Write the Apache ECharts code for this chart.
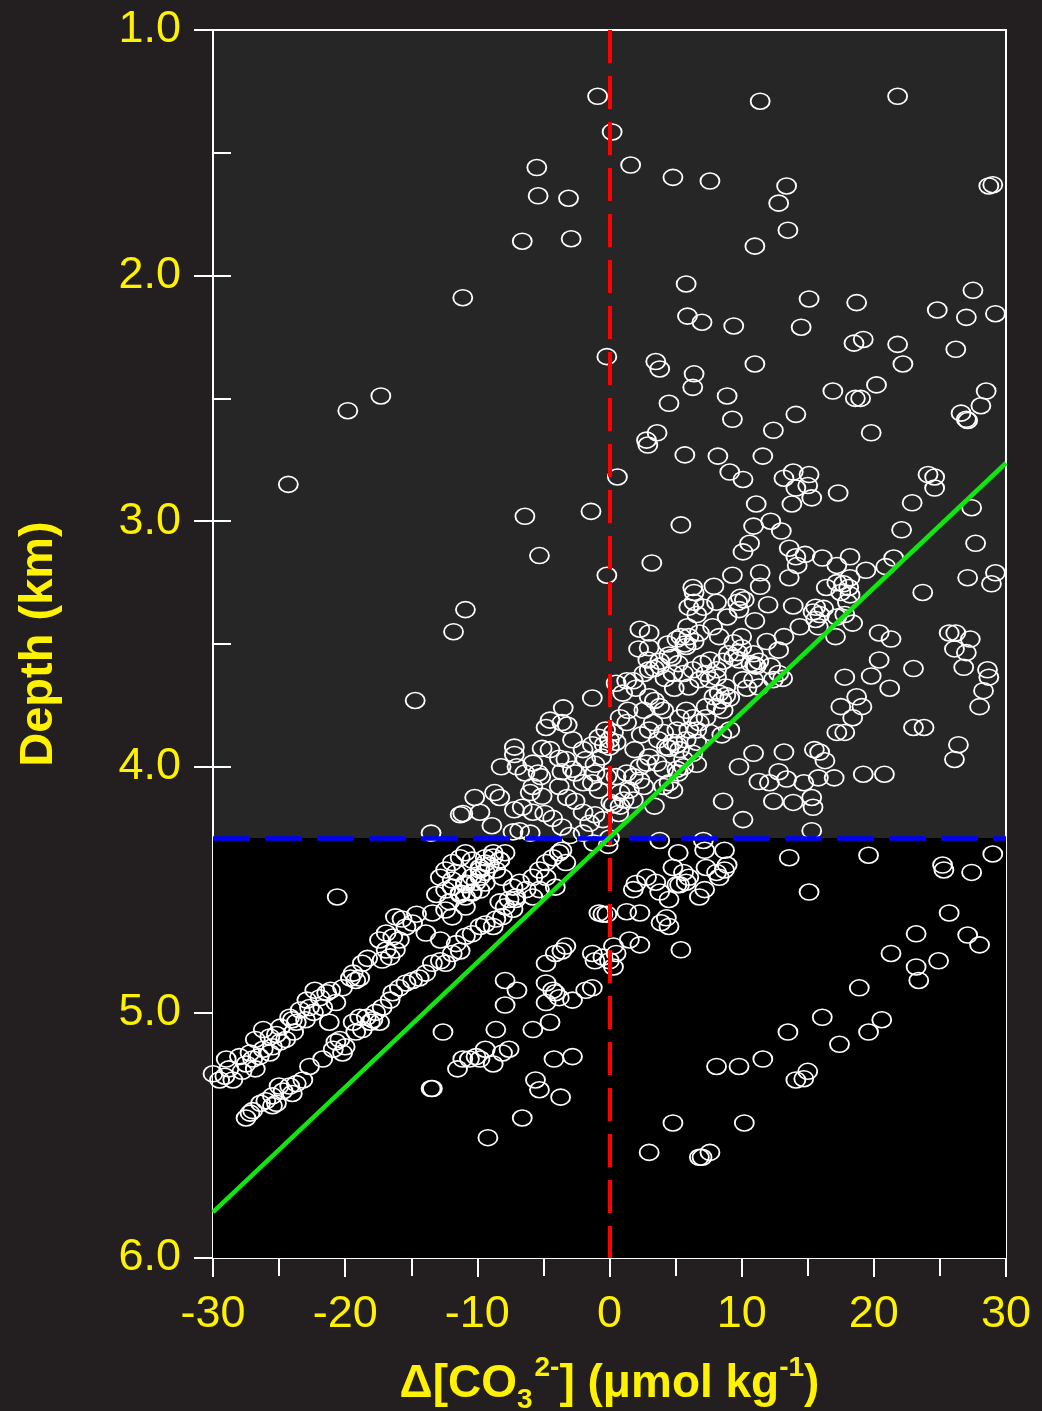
<!DOCTYPE html>
<html>
<head>
<meta charset="utf-8">
<title>Depth vs carbonate ion saturation</title>
<script src="https://cdn.jsdelivr.net/npm/echarts@6/dist/echarts.min.js"></script>
<style>
  html, body { margin: 0; padding: 0; background: #231f20; }
  #chart { width: 1042px; height: 1411px; }
</style>
</head>
<body>
<div id="chart"></div>
<script>
// Axis ranges and tick labels
const xRange = [-30, 30];
const depthRange = [1.0, 6.0];
const xTickStep = 10;
const depthTickStep = 1;

// Transition depth (km) and the linear fit through the data
const transitionDepth = 4.29;
const fitLine = [[-30, 5.813], [30, 2.763]];

// Samples above the transition depth, sparse part: [Δ[CO3 2-], depth]
const shallowSparse = [
  [-0.9,1.27],[0.2,1.415],[1.6,1.55],[-5.5,1.56],[-5.4,1.675],[-3.1,1.685],[-2.9,1.85],[-6.6,1.86],
  [-11.1,2.09],[-19.8,2.55],[-17.3,2.49],[-24.3,2.85],[-6.4,2.98],[-1.4,2.96],[-5.3,3.14],[-0.2,3.22],
  [-10.9,3.36],[-11.8,3.45],[-14.7,3.73],[-0.2,2.33],[0.6,2.82],[11.4,1.29],[21.8,1.27],[4.8,1.60],
  [7.6,1.615],[13.4,1.635],[12.8,1.705],[28.7,1.635],[29.0,1.63],[13.5,1.815],[11.0,1.88],
  [5.8,2.034],[15.1,2.095],[18.7,2.11],[27.5,2.06],[24.8,2.14],[27.0,2.17],[29.2,2.155],[5.9,2.165],
  [7.0,2.19],[9.4,2.205],[14.5,2.21],[18.5,2.275],[19.2,2.26],[21.8,2.28],[26.2,2.30],[22.2,2.36],
  [3.5,2.35],[3.8,2.38],[6.4,2.40],[6.3,2.455],[11.0,2.36],[16.9,2.47],[20.2,2.445],[18.6,2.50],
  [19.0,2.50],[28.5,2.47],[28.1,2.53],[26.6,2.56],[27.0,2.585],[27.1,2.59],[4.5,2.52],[8.9,2.49],
  [9.3,2.585],[14.1,2.565],[12.4,2.63],[19.8,2.64],[3.6,2.64],[2.8,2.67]
];

// Samples above the transition depth, positive Δ side
const shallowPositive = [
  [2.9,2.69],[5.7,2.73],[8.2,2.735],[11.6,2.735],[9.1,2.80],[10.1,2.83],[13.2,2.825],[13.9,2.80],
  [15.1,2.81],[14.1,2.865],[15.0,2.855],[15.3,2.905],[13.8,2.93],[17.3,2.885],[11.1,2.93],[24.1,2.81],
  [24.6,2.82],[24.6,2.865],[22.9,2.925],[27.4,2.945],[5.4,3.015],[10.9,3.02],[12.2,3.00],[13.0,3.04],
  [10.6,3.09],[10.1,3.125],[13.6,3.11],[14.1,3.145],[14.8,3.135],[14.2,3.18],[22.1,3.035],[27.7,3.09],
  [3.2,3.17],[16.1,3.15],[17.2,3.18],[18.2,3.145],[19.4,3.20],[20.9,3.185],[21.5,3.15],[9.3,3.22],
  [11.4,3.21],[11.4,3.265],[13.6,3.23],[27.1,3.23],[28.9,3.255],[29.2,3.21],[23.7,3.29],[6.3,3.27],
  [6.4,3.29],[7.9,3.265],[16.4,3.27],[17.2,3.25],[17.7,3.255],[18.2,3.23],[18.1,3.27],[17.5,3.29],
  [18.2,3.30],[18.0,3.33],[6.4,3.33],[6.0,3.35],[7.1,3.35],[8.1,3.33],[6.6,3.38],[9.9,3.31],
  [10.2,3.32],[9.7,3.33],[9.8,3.36],[13.9,3.345],[15.6,3.35],[16.2,3.355],[15.4,3.37],[15.9,3.38],
  [15.6,3.40],[17.2,3.39],[17.8,3.38],[18.4,3.415],[17.1,3.47],[11.0,3.405],[14.4,3.43],[15.8,3.43],
  [5.9,3.43],[6.8,3.455],[6.0,3.47],[5.1,3.48],[5.7,3.50],[2.3,3.44],[3.0,3.455],[8.3,3.47],
  [10.0,3.47],[9.4,3.495],[10.0,3.515],[11.9,3.49],[12.8,3.525],[13.2,3.47],[10.9,3.54],[11.3,3.57],
  [2.2,3.52],[3.0,3.515],[2.9,3.565],[3.8,3.57],[4.5,3.545],[4.7,3.555],[5.8,3.51],[5.4,3.47],
  [6.4,3.49],[7.6,3.565],[8.1,3.605],[7.3,3.62],[9.0,3.54],[9.4,3.555],[9.8,3.565],[9.7,3.535],
  [10.7,3.58],[11.0,3.585],[11.1,3.59],[12.2,3.59],[12.8,3.62],[13.1,3.64],
  [20.4,3.455],[21.3,3.48],[20.4,3.565],[21.2,3.68],[17.8,3.635],[19.8,3.63],[23.0,3.60],[18.7,3.715],
  [19.1,3.755],[17.5,3.755],[18.4,3.80],[17.2,3.86],[17.8,3.86],[23.0,3.84],[23.8,3.84],[26.4,3.91],
  [26.1,3.97],[25.7,3.455],[26.2,3.455],[27.3,3.48],[26.1,3.52],[27.0,3.535],[26.8,3.595],[28.6,3.605],
  [28.7,3.635],[28.3,3.69],[28.0,3.755],
  [0.5,3.66],[1.3,3.65],[1.8,3.65],[3.0,3.605],[3.8,3.59],[2.6,3.62],[4.8,3.62],[5.6,3.62],
  [6.3,3.605],[4.9,3.68],[6.0,3.675],[6.8,3.645],[7.6,3.645],[8.1,3.635],[8.8,3.675],[10.1,3.645],
  [10.4,3.68],[10.9,3.645],[11.3,3.675],[12.4,3.645],[7.9,3.715],[8.3,3.70],[8.8,3.71],[9.1,3.72],
  [8.5,3.73],[7.3,3.755],[8.1,3.755],[3.0,3.715],[3.4,3.73],[3.8,3.755],[4.1,3.77],[2.6,3.77],
  [1.4,3.77],[0.8,3.80],[1.3,3.82],[5.8,3.77],[5.3,3.80],[6.3,3.80],[6.8,3.82],[6.6,3.85],
  [6.0,3.85],[7.3,3.80],[8.6,3.77],[9.1,3.85],[8.5,3.87],[3.3,3.82],[3.0,3.85],[4.1,3.86],
  [5.1,3.85],[4.8,3.90],[4.3,3.92],[4.5,3.925],[5.1,3.91],[5.3,3.93],[5.8,3.89],[6.6,3.90],
  [6.3,3.945],[5.6,3.97],[0.3,3.86],[0.5,3.90],[0.0,3.89],[3.0,3.96],[2.8,3.985],[2.3,4.0],
  [3.6,3.985],[4.1,4.01],[5.1,4.01],[5.6,4.0],[4.5,4.065],[4.8,4.095],[4.1,4.08],[0.5,4.04],
  [1.3,4.025],[1.8,4.04],[2.3,4.055],[2.6,4.08],[1.5,4.095],[0.8,4.105],[1.1,4.135],[1.8,4.135],
  [0.8,4.16],[0.3,4.155],[0.7,4.19],[3.4,4.16],[6.6,3.99],[5.2,4.025],
  [9.8,4.00],[10.9,3.945],[13.2,3.94],[12.8,4.02],[13.4,4.05],[12.1,4.065],[11.3,4.06],[12.4,4.14],
  [13.9,4.145],[14.7,4.065],[15.3,4.125],[15.4,4.165],[15.8,4.045],[15.5,3.93],[15.9,3.94],[16.3,3.975],
  [17.0,4.045],[19.2,4.03],[20.8,4.03],[8.6,4.14],[10.1,4.215],[15.3,4.26],
  [1.0,3.70],[2.0,3.68],[4.2,3.64],[5.2,3.58],[7.0,3.58],[8.6,3.57],[2.4,3.87],[3.7,3.89],
  [7.6,3.86],[1.9,3.93],[3.4,3.60],[4.4,3.50],[7.8,3.43],[8.9,3.39],[12.0,3.34]
];

// Samples above the transition depth, negative Δ side
const shallowNegative = [
  [-1.3,3.72],[-3.5,3.76],[-4.5,3.81],[-4.8,3.84],[-3.6,3.82],[-3.2,3.83],[-0.3,3.85],[-0.8,3.88],
  [-0.4,3.91],[0.0,3.92],[-2.8,3.89],[-2.0,3.93],[-1.3,3.91],[-1.8,3.97],[-1.1,3.99],[-7.2,3.92],
  [-7.2,3.95],[-5.1,3.925],[-4.5,3.93],[-3.8,3.965],[-3.3,3.97],[-5.8,3.985],[-8.2,4.0],[-7.0,4.0],
  [-6.4,4.025],[-5.4,4.025],[-5.2,4.04],[-3.6,4.02],[-2.8,4.01],[-2.6,4.025],[-1.1,4.025],[-0.2,4.04],
  [-5.8,4.08],[-6.0,4.105],[-5.1,4.12],[-3.8,4.08],[-3.2,4.125],[-2.0,4.065],[-1.3,4.065],[-0.8,4.095],
  [-10.2,4.125],[-8.7,4.105],[-8.3,4.125],[-9.8,4.185],[-11.1,4.19],[-11.3,4.195],[-7.2,4.175],[-6.6,4.165],
  [-5.8,4.185],[-4.9,4.19],[-6.8,4.26],[-7.3,4.265],[-2.0,4.185],[-1.1,4.195],[-0.5,4.215],[0.1,4.145],
  [-6.0,4.27],[-3.6,4.245],[-2.0,4.27],[-1.5,4.23],[-13.5,4.27],[0.0,4.29],[-1.2,4.31],[-0.1,4.32],
  [3.8,4.30],[7.1,4.30],[-4.3,4.21],[-2.6,4.14],[-0.6,3.96],[-3.0,4.28],[-8.9,4.24]
];

// Deep samples along the upper trend
const deepUpperTrend = [
  [-30.0,5.25],[-29.5,5.275],[-29.1,5.26],[-28.5,5.275],[-29.0,5.19],[-28.0,5.18],[-27.5,5.21],[-27.0,5.19],
  [-26.8,5.23],[-26.2,5.15],[-25.5,5.14],[-24.9,5.12],[-25.7,5.10],[-24.9,5.06],[-26.2,5.07],[-26.8,5.11],
  [-27.2,5.165],[-25.7,5.165],[-24.5,5.11],[-24.2,5.02],[-23.4,4.99],[-22.7,4.98],[-22.4,5.00],[-22.3,4.91],
  [-21.9,4.94],[-21.7,4.98],[-23.0,5.03],[-23.7,5.04],[-24.0,5.03],[-21.1,4.91],[-20.2,4.90],[-19.6,4.86],
  [-19.4,4.84],[-18.9,4.86],[-18.7,4.80],[-19.2,4.87],[-20.7,4.96],[-21.2,5.04],
  [-17.4,4.705],[-16.9,4.677],[-16.4,4.693],[-15.9,4.705],[-16.9,4.746],[-16.6,4.774],[-17.2,4.787],[-16.2,4.746],
  [-15.4,4.652],[-16.2,4.611],[-14.9,4.636],[-13.9,4.677],[-12.8,4.705],[-13.4,4.595],[-12.4,4.583],[-11.9,4.611],
  [-10.9,4.571],[-11.3,4.514],[-12.4,4.502],[-11.9,4.461],[-10.9,4.473],[-10.4,4.449],[-9.8,4.420],[-9.4,4.392],
  [-8.8,4.367],[-8.3,4.380],[-9.8,4.502],[-10.9,4.530],[-10.4,4.514],[-9.4,4.473],
  [-12.8,4.45],[-12.4,4.42],[-11.9,4.39],[-11.3,4.37],[-10.9,4.35],[-10.4,4.38],[-9.8,4.41],[-9.4,4.37],
  [-8.8,4.35],[-8.3,4.38],[-7.9,4.35],[-11.9,4.49],[-11.3,4.52],[-10.9,4.48],[-10.4,4.51],[-9.8,4.45],
  [-9.4,4.43],[-8.6,4.42],[-8.1,4.45],[-7.3,4.49],[-7.1,4.53],[-6.3,4.50],[-5.8,4.45],[-5.3,4.42],
  [-4.8,4.39],[-4.3,4.37],[-3.8,4.35],[-3.3,4.39],[-4.8,4.45],[-5.3,4.50],[-5.8,4.53],[-4.1,4.49],
  [-3.6,4.34],[-20.6,4.53],
  [-28.8,5.23],[-27.8,5.24],[-26.5,5.18],[-25.2,5.09],[-23.9,5.08],[-22.9,4.95],[-21.4,4.92],[-18.3,4.78],
  [-15.7,4.62],[-14.6,4.60],[-13.1,4.52],[-12.1,4.55],[-11.6,4.43],[-10.1,4.47],[-9.1,4.40],[-6.8,4.47]
];

// Deep samples along the lower trend
const deepLowerTrend = [
  [-27.5,5.43],[-27.2,5.41],[-27.0,5.40],[-26.4,5.37],[-26.0,5.36],[-25.5,5.34],[-25.2,5.37],[-24.7,5.32],
  [-24.2,5.30],[-23.7,5.29],[-23.2,5.275],[-24.0,5.33],[-25.0,5.30],[-25.5,5.38],[-22.7,5.22],[-21.7,5.19],
  [-20.9,5.15],[-20.7,5.12],[-20.4,5.11],[-20.2,5.165],[-20.0,5.14],[-19.4,5.04],[-18.9,5.02],[-18.4,5.02],
  [-17.9,5.03],[-17.4,5.04],[-18.1,5.04],[-18.7,5.07],[-19.2,5.08],[-17.7,5.00],[-17.2,4.98],[-16.6,4.95],
  [-16.4,4.92],[-15.9,4.90],[-15.4,4.88],[-14.9,4.87],[-14.4,4.86],[-13.9,4.84],[-13.4,4.80],[-12.8,4.79],
  [-12.4,4.80],[-11.9,4.76],[-11.3,4.75],[-11.6,4.72],[-10.9,4.69],[-10.4,4.68],[-9.8,4.65],[-9.4,4.64],
  [-8.8,4.65],[-8.6,4.62],[-8.1,4.61],[-7.9,4.57],[-8.3,4.55],[-7.6,4.54],[-7.1,4.54],[-7.3,4.58]
];

// Deep samples below the fit line
const deepScattered = [
  [-13.5,5.31],[-13.4,5.31],[-12.6,5.08],[-11.5,5.23],[-11.1,5.19],[-10.6,5.19],[-10.1,5.18],[-9.8,5.19],
  [-9.4,5.15],[-8.8,5.21],[-8.1,5.165],[-7.6,5.15],[-7.9,4.87],[-7.0,4.91],[-7.9,4.97],[-8.6,5.07],
  [-6.6,5.43],[-9.2,5.51],[-5.8,5.07],[-4.5,5.04],[-4.2,5.19],[-2.8,5.18],[-5.6,5.275],[-5.3,5.315],
  [-3.7,5.345],[-4.8,4.80],[-4.1,4.76],[-3.6,4.75],[-3.3,4.73],[-1.3,4.76],[-1.1,4.79],[-0.5,4.775],
  [-4.8,4.88],[-4.3,4.91],[-3.8,4.94],[-2.8,4.95],[-1.8,4.91],[-1.3,4.90],[-4.8,4.96],[-4.1,4.92],
  [-0.8,4.595],[-0.5,4.60],[0.0,4.79],[0.3,4.73],[0.5,4.76],[0.3,4.815],[-0.2,4.60],
  [1.3,4.59],[2.3,4.595],[2.8,4.45],[2.0,4.475],[1.8,4.50],[3.5,4.47],[3.8,4.51],[4.5,4.54],
  [4.8,4.41],[5.6,4.43],[6.0,4.45],[5.3,4.48],[5.8,4.47],[5.1,4.48],[6.8,4.53],[7.2,4.50],
  [7.3,4.41],[8.1,4.43],[8.7,4.42],[8.9,4.40],[8.3,4.45],[4.3,4.615],[4.5,4.65],[3.9,4.635],
  [1.5,4.705],[2.3,4.725],[5.4,4.745],[5.2,4.35],[7.2,4.34],[8.7,4.34],
  [13.6,4.37],[19.6,4.36],[15.1,4.51],[25.2,4.40],[25.3,4.42],[27.4,4.43],[29.0,4.355],[25.7,4.595],
  [23.2,4.68],[27.1,4.685],[28.0,4.725],[21.3,4.76],[23.2,4.815],[24.9,4.79],[23.4,4.87],[18.9,4.90],
  [16.1,5.02],[13.5,5.08],[17.4,5.13],[19.6,5.08],[20.6,5.03],[11.6,5.19],[8.1,5.22],[9.8,5.22],
  [15.0,5.24],[14.7,5.27],[14.1,5.275],[4.8,5.45],[10.2,5.45],[3.0,5.57],[7.0,5.59],[6.8,5.59],[7.6,5.57]
];

const yellow = '#fff200';
const fontFamily = '"Liberation Sans", Arial, Helvetica, sans-serif';

const samples = [].concat(shallowSparse, shallowPositive, shallowNegative,
  deepUpperTrend, deepLowerTrend, deepScattered);

const chart = echarts.init(document.getElementById('chart'), null, { renderer: 'canvas' });

const option = {
  backgroundColor: '#231f20',
  animation: false,
  grid: {
    left: 213, top: 30, width: 793, height: 1228,
    outerBoundsMode: 'none', containLabel: false,
    show: true, backgroundColor: '#262626', borderColor: '#ffffff', borderWidth: 2
  },
  xAxis: [
    {
      type: 'value', min: xRange[0], max: xRange[1], interval: xTickStep, position: 'bottom',
      axisLine: { show: true, onZero: false, lineStyle: { color: '#ffffff', width: 2 } },
      axisTick: { show: true, inside: false, length: 19, lineStyle: { color: '#ffffff', width: 2 } },
      minorTick: { show: true, splitNumber: 2, length: 18, lineStyle: { color: '#ffffff', width: 2 } },
      splitLine: { show: false },
      axisLabel: { color: yellow, fontSize: 45, fontFamily: fontFamily, margin: 34 },
      name: '{t|Δ[CO}{sub|3}{sup|2-}{t|] (μmol kg}{sup|-1}{t|)}',
      nameLocation: 'middle', nameGap: 96,
      nameTextStyle: {
        rich: {
          t: { color: yellow, fontSize: 46, fontWeight: 'bold', fontFamily: fontFamily, lineHeight: 60 },
          sub: { color: yellow, fontSize: 28, fontWeight: 'bold', fontFamily: fontFamily, lineHeight: 28, verticalAlign: 'bottom', padding: [0, 2, 0, 0] },
          sup: { color: yellow, fontSize: 28, fontWeight: 'bold', fontFamily: fontFamily, lineHeight: 28, verticalAlign: 'top' }
        }
      }
    },
    {
      type: 'value', min: xRange[0], max: xRange[1], interval: xTickStep, position: 'bottom',
      axisLine: { show: false, onZero: false },
      axisTick: { show: true, inside: true, length: 18, lineStyle: { color: '#ffffff', width: 2 } },
      axisLabel: { show: false }, splitLine: { show: false }
    }
  ],
  yAxis: [
    {
      type: 'value', min: depthRange[0], max: depthRange[1], interval: depthTickStep, inverse: true, position: 'left',
      axisLine: { show: true, onZero: false, lineStyle: { color: '#ffffff', width: 2 } },
      axisTick: { show: true, inside: true, length: 18, lineStyle: { color: '#ffffff', width: 2 } },
      minorTick: { show: true, splitNumber: 2, length: 18, lineStyle: { color: '#ffffff', width: 2 } },
      splitLine: { show: false },
      axisLabel: { show: false },
      name: 'Depth (km)', nameLocation: 'middle', nameGap: 150,
      nameTextStyle: { color: yellow, fontSize: 47, fontWeight: 'bold', fontFamily: fontFamily }
    },
    {
      type: 'value', min: depthRange[0], max: depthRange[1], interval: depthTickStep, inverse: true, position: 'left',
      axisLine: { show: false, onZero: false },
      axisTick: { show: true, inside: false, length: 19, lineStyle: { color: '#ffffff', width: 2 } },
      splitLine: { show: false },
      axisLabel: { color: yellow, fontSize: 45, fontFamily: fontFamily, margin: 32, formatter: v => v.toFixed(1) }
    }
  ],
  series: [
    {
      // dark lower zone below the transition depth
      type: 'scatter', data: [], z: 1, silent: true,
      markArea: {
        silent: true,
        itemStyle: { color: '#000000', opacity: 1 },
        data: [[{ yAxis: transitionDepth }, { yAxis: depthRange[1] }]]
      }
    },
    {
      type: 'scatter', data: samples, z: 3, silent: true,
      symbol: 'circle', symbolSize: [19, 16],
      itemStyle: { color: 'rgba(0,0,0,0)', borderColor: '#ffffff', borderWidth: 1.7, opacity: 1 }
    },
    {
      type: 'line', data: fitLine, z: 5, silent: true, symbol: 'none',
      lineStyle: { color: '#10e610', width: 4.5 }
    },
    {
      type: 'scatter', data: [], z: 6, silent: true,
      markLine: {
        silent: true, symbol: ['none', 'none'], label: { show: false },
        data: [
          { xAxis: 0, lineStyle: { color: '#ff0000', width: 4, type: [33, 13] } },
          { yAxis: transitionDepth, lineStyle: { color: '#0000ff', width: 4.5, type: [37, 15] } }
        ]
      }
    }
  ]
};

chart.setOption(option);
</script>
</body>
</html>
